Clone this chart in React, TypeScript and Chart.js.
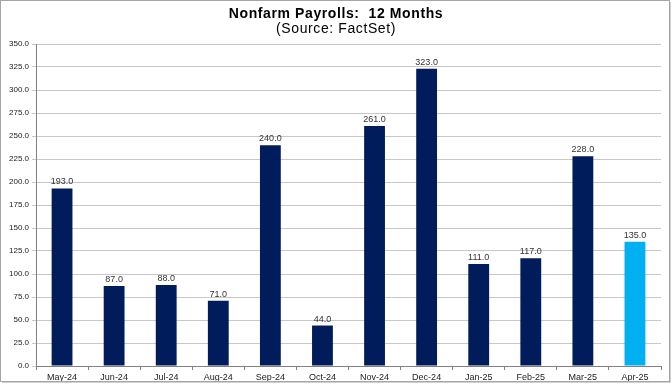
import React, { useEffect, useRef } from "react";
import { Chart, registerables } from "chart.js";

Chart.register(...registerables);

const categories = ["May-24", "Jun-24", "Jul-24", "Aug-24", "Sep-24", "Oct-24", "Nov-24", "Dec-24", "Jan-25", "Feb-25", "Mar-25", "Apr-25"];
const payrolls = [193, 87, 88, 71, 240, 44, 261, 323, 111, 117, 228, 135];
const barColors = ["#001C5A", "#001C5A", "#001C5A", "#001C5A", "#001C5A", "#001C5A", "#001C5A", "#001C5A", "#001C5A", "#001C5A", "#001C5A", "#00B0F0"];
const titleText = "Nonfarm Payrolls:  12 Months";
const subtitleText = "(Source: FactSet)";

const W = 672;
const H = 384;

const decorPlugin = {
  id: "decor",
  afterDraw(chart: any) {
    const ctx = chart.ctx;
    ctx.save();
    // titles
    ctx.fillStyle = "#000";
    ctx.textAlign = "center";
    ctx.textBaseline = "middle";
    try { (ctx as any).letterSpacing = "0.6px"; } catch (e) {}
    ctx.font = "bold 14px 'Liberation Sans', Arial, sans-serif";
    ctx.fillText(titleText, 336, 14);
    ctx.font = "14px 'Liberation Sans', Arial, sans-serif";
    ctx.fillText(subtitleText, 336, 29);
    try { (ctx as any).letterSpacing = "0px"; } catch (e) {}
    // data labels
    const meta = chart.getDatasetMeta(0);
    ctx.font = "9px 'Liberation Sans', Arial, sans-serif";
    ctx.fillStyle = "#333";
    ctx.textBaseline = "alphabetic";
    meta.data.forEach((bar: any, i: number) => {
      ctx.fillText(payrolls[i].toFixed(1), bar.x, bar.y - 4);
    });
    // border
    ctx.strokeStyle = "#A6A6A6";
    ctx.lineWidth = 1;
    ctx.strokeRect(0.5, 0.5, W - 3, H - 3);
    ctx.strokeStyle = "#D0D0D0";
    ctx.beginPath();
    ctx.moveTo(W - 1.5, 2);
    ctx.lineTo(W - 1.5, H - 1.5);
    ctx.lineTo(2, H - 1.5);
    ctx.stroke();
    ctx.restore();
  },
};

export default function App() {
  const ref = useRef<HTMLCanvasElement | null>(null);
  useEffect(() => {
    document.body.style.margin = "0";
    const chart = new Chart(ref.current as HTMLCanvasElement, {
      type: "bar",
      data: {
        labels: categories,
        datasets: [
          {
            data: payrolls,
            backgroundColor: barColors,
            borderWidth: 0,
            barPercentage: 0.4,
            categoryPercentage: 1,
          },
        ],
      },
      options: {
        animation: false,
        responsive: false,
        maintainAspectRatio: false,
        devicePixelRatio: 1,
        layout: { padding: { top: 44, right: 11, bottom: 0, left: 0 } },
        plugins: { legend: { display: false }, tooltip: { enabled: false }, title: { display: false } },
        scales: {
          x: {
            offset: true,
            grid: { display: true, drawOnChartArea: false, drawTicks: true, tickLength: 4, color: "#808080", offset: true },
            border: { display: true, color: "#808080" },
            ticks: { color: "#222", font: { size: 9, family: "'Liberation Sans', Arial, sans-serif" }, padding: 2, maxRotation: 0, autoSkip: false },
            afterFit(scale: any) { scale.height = 18; },
          },
          y: {
            min: 0,
            max: 350,
            grid: { color: "#C8C8C8", lineWidth: 1, drawTicks: true, tickLength: 4 },
            border: { display: true, color: "#808080" },
            ticks: {
              stepSize: 25,
              color: "#222",
              font: { size: 8, family: "'Liberation Sans', Arial, sans-serif" },
              padding: 3,
              callback: (v: any) => Number(v).toFixed(1),
            },
            afterFit(scale: any) { scale.width = 36; },
          },
        },
      },
      plugins: [decorPlugin],
    });
    return () => chart.destroy();
  }, []);
  return <canvas ref={ref} width={W} height={H} style={{ display: "block", width: W, height: H }} />;
}
